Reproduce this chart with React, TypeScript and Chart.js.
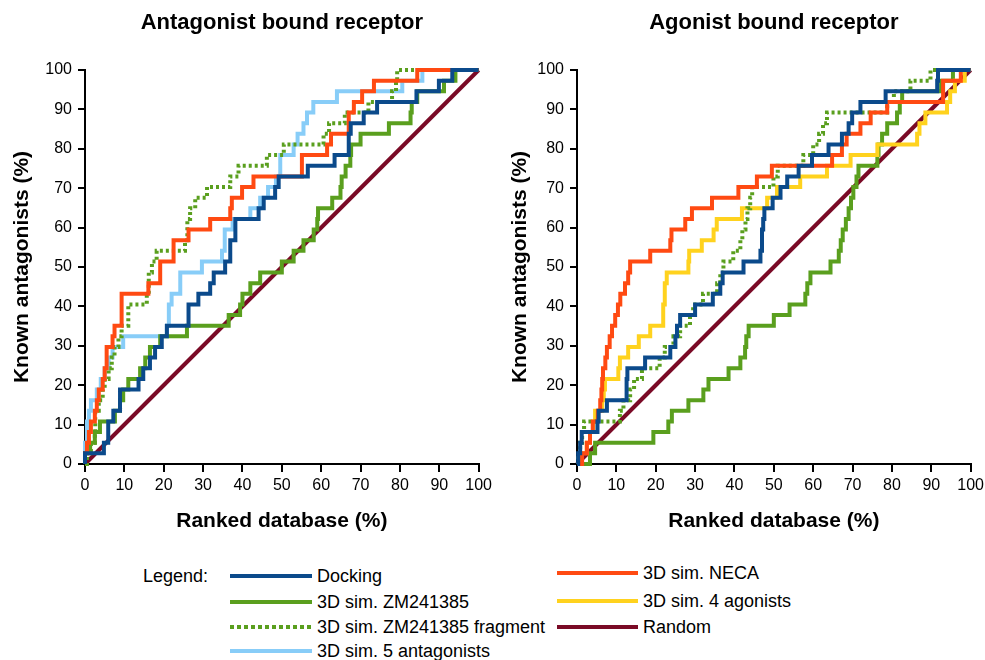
import React, { useEffect, useRef } from "react";
import { Chart, registerables } from "chart.js";
Chart.register(...registerables);

const FONT = "'Liberation Sans', Arial, sans-serif";

// ---- colours ----
const C_DOCK = "#0b4a8b";
const C_ZM = "#5a9f1e";
const C_FRAG = "#5a9f1e";
const C_ANT5 = "#88cdf8";
const C_NECA = "#ff4a12";
const C_AG4 = "#ffd21e";
const C_RAND = "#7a0a26";

// ---- tick values ----
const axisTicks = [0, 10, 20, 30, 40, 50, 60, 70, 80, 90, 100];

// ---- Antagonist bound receptor (left) : [ranked %, known %] step points ----
const leftDocking = [[0,0],[0,2.7],[4.8,5.4],[5.9,10.8],[7.2,13.5],[8.9,18.9],[13.6,21.6],[14.8,24.3],[16.5,27],[17.8,29.7],[19.5,32.4],[20.8,35.1],[26.3,40.5],[28.8,43.2],[31.8,45.9],[32.7,48.6],[35.6,51.4],[36.9,56.8],[38.2,62.2],[44.1,64.9],[45.4,67.6],[48.3,70.3],[49.2,73],[56.6,75.7],[63.4,78.4],[67,83.8],[67.5,86.5],[70.8,89.2],[74.2,91.9],[84.2,94.6],[89.9,97.3],[93.3,100],[100,100]];
const leftZM = [[0,0],[0,2.7],[1.3,5.4],[2.5,8.1],[3.8,10.8],[7.6,13.5],[8.9,16.2],[9.7,18.9],[11,21.6],[14,24.3],[15.3,27],[16.5,29.7],[19.1,32.4],[25.9,35.1],[36.5,37.8],[39.4,40.5],[40,43.2],[42,45.9],[44.5,48.6],[50,51.4],[53,54.1],[55.5,56.8],[58.1,59.5],[59,62.2],[59.2,64.9],[62.8,67.6],[64.9,70.3],[65.2,73],[66.2,75.7],[67.4,78.4],[67.6,81.1],[70,83.8],[77.2,86.5],[82.7,89.2],[83,91.9],[84.4,94.6],[91.2,97.3],[94.1,100],[100,100]];
const leftFrag = [[0,0],[0.5,2.7],[1.5,5.4],[2.5,8.1],[2.6,13.5],[3.5,16.2],[4.5,18.9],[5,21.6],[6,24.3],[6.8,27],[7.5,29.7],[8.5,32.4],[9.3,35.1],[11,40.5],[15.7,43.2],[16.2,48.6],[17,51.4],[18.2,54.1],[25.4,56.8],[26,62.2],[26.7,64.9],[28,67.6],[31,70.3],[36.9,73],[39,75.7],[46.2,78.4],[50.5,81.1],[60.6,83.8],[62,86.5],[66,89.2],[72,91.9],[78,94.6],[79,97.3],[79.3,100],[100,100]];
const leftNeca = [[0,0],[0,2.7],[0.5,5.4],[1,8.1],[1.5,10.8],[2.5,13.5],[3,16.2],[3.5,18.9],[4.5,21.6],[5,24.3],[5.5,29.7],[7,32.4],[7.5,35.1],[9.3,43.2],[16.1,45.9],[19.1,51.4],[22.5,56.8],[26.3,59.5],[31.8,62.2],[36.9,64.9],[37.3,67.6],[39.9,70.3],[42.8,73],[55.1,78.4],[61.5,81.1],[62.5,83.8],[67,89.2],[68.3,91.9],[70.4,94.6],[73.4,97.3],[84.4,100],[100,100]];
const leftAnt5 = [[0,0],[0,5.4],[0.5,10.8],[1,13.5],[1.5,16.2],[3,18.9],[4,21.6],[5,24.3],[6,27],[7,29.7],[9.7,32.4],[20.8,35.1],[21.3,40.5],[22,43.2],[24.2,48.6],[29.7,51.4],[34.8,54.1],[35.5,59.5],[37.5,62.2],[42,64.9],[44.5,67.6],[46.5,70.3],[48.5,73],[49.6,78.4],[53,81.1],[54,83.8],[55.5,86.5],[56.4,89.2],[58,91.9],[64,94.6],[80.6,97.3],[85.7,100],[100,100]];

// ---- Agonist bound receptor (right) ----
const rightDocking = [[0,0],[0.3,2.7],[0.8,5.4],[1.2,8.1],[5.2,10.8],[5.5,13.5],[7.6,16.2],[12.6,21.6],[12.8,24.3],[17.3,27],[23.7,29.7],[25,32.4],[25.4,35.1],[26.2,37.8],[30,40.5],[34.5,43.2],[36.4,45.9],[37,48.6],[42.3,51.4],[46.6,54.1],[47,59.5],[47.3,62.2],[47.6,64.9],[49.7,67.6],[51.7,70.3],[53.4,73],[56.3,75.7],[59.7,78.4],[63.9,81.1],[67.3,83.8],[69,86.5],[69.9,89.2],[72,91.9],[78.4,94.6],[91.5,97.3],[91.7,100],[100,100]];
const rightZM = [[0,0],[3.3,2.7],[4.6,5.4],[19.4,8.1],[23.2,10.8],[24.1,13.5],[28.3,16.2],[32.1,18.9],[33.4,21.6],[38.5,24.3],[41.5,27],[42.7,29.7],[43,32.4],[43.6,35.1],[50,37.8],[54,40.5],[58,43.2],[58.5,45.9],[59.3,48.6],[64.4,51.4],[66.5,54.1],[67,56.8],[67.5,59.5],[68.3,62.2],[69,64.9],[69.6,67.6],[70.2,70.3],[71,73],[71.5,75.7],[76.3,78.4],[76.6,81.1],[77.5,83.8],[78.8,86.5],[81.3,89.2],[82,91.9],[82.6,94.6],[92.5,97.3],[95.5,100],[100,100]];
const rightFrag = [[0,0],[0.3,2.7],[0.8,5.4],[1.3,8.1],[1.8,10.8],[10.9,13.5],[11.8,16.2],[13.5,18.9],[14.5,21.6],[16.5,24.3],[21,27],[22.3,29.7],[24.5,32.4],[26.2,35.1],[28.7,37.8],[29.5,40.5],[32,43.2],[35.6,45.9],[36.4,48.6],[37.2,51.4],[39.7,54.1],[41.5,56.8],[42,59.5],[42.8,62.2],[43.3,64.9],[44,67.6],[44.5,70.3],[49.9,73],[51,75.7],[57.5,78.4],[60,81.1],[61.5,83.8],[62.5,86.5],[63.5,89.2],[78.8,91.9],[80.5,94.6],[84.7,97.3],[89.8,100],[100,100]];
const rightNeca = [[0,0],[1.3,2.7],[2.5,5.4],[3.3,8.1],[4,10.8],[5.3,13.5],[5.9,16.2],[6.2,18.9],[6.4,21.6],[6.6,24.3],[7.2,27],[7.6,29.7],[8.3,32.4],[8.9,35.1],[9.7,37.8],[10.4,40.5],[11,43.2],[12.2,45.9],[13,48.6],[13.5,51.4],[18.6,54.1],[23.7,56.8],[24,59.5],[27.5,62.2],[29.2,64.9],[34.3,67.6],[41,70.3],[45.7,73],[49.5,75.7],[64.8,78.4],[67.3,81.1],[68.5,83.8],[72,86.5],[74.6,89.2],[78.8,91.9],[93,97.3],[97.5,100],[100,100]];
const rightAg4 = [[0,0],[0.8,2.7],[2.5,5.4],[3.3,8.1],[4.1,10.8],[4.6,13.5],[6.4,16.2],[6.8,18.9],[7.1,21.6],[10.5,24.3],[10.9,27],[13,29.7],[15.7,32.4],[18.6,35.1],[21.9,40.5],[22.3,45.9],[22.8,48.6],[28.3,51.4],[28.5,54.1],[31.7,56.8],[34.7,59.5],[35.5,62.2],[41.9,64.9],[48.3,67.6],[50.8,70.3],[56.7,73],[63.5,75.7],[69.5,78.4],[76.3,81.1],[86.4,83.8],[87,86.5],[88.5,89.2],[94,91.9],[94.8,94.6],[96,97.3],[98.5,100],[100,100]];

const randomLine = [[0,0],[100,100]];

type Series = { label: string; color: string; pts: number[][]; dotted?: boolean; stepped?: boolean };

const leftSeries: Series[] = [
  { label: "Docking", color: C_DOCK, pts: leftDocking },
  { label: "3D sim. NECA", color: C_NECA, pts: leftNeca },
  { label: "3D sim. ZM241385 fragment", color: C_FRAG, pts: leftFrag, dotted: true },
  { label: "3D sim. ZM241385", color: C_ZM, pts: leftZM },
  { label: "3D sim. 5 antagonists", color: C_ANT5, pts: leftAnt5 },
  { label: "Random", color: C_RAND, pts: randomLine, stepped: false },
];
const rightSeries: Series[] = [
  { label: "Docking", color: C_DOCK, pts: rightDocking },
  { label: "3D sim. NECA", color: C_NECA, pts: rightNeca },
  { label: "3D sim. ZM241385 fragment", color: C_FRAG, pts: rightFrag, dotted: true },
  { label: "3D sim. 4 agonists", color: C_AG4, pts: rightAg4 },
  { label: "3D sim. ZM241385", color: C_ZM, pts: rightZM },
  { label: "Random", color: C_RAND, pts: randomLine, stepped: false },
];

function buildChart(canvas: HTMLCanvasElement, title: string, series: Series[], yTitlePad: number) {
  return new Chart(canvas, {
    type: "line",
    data: {
      datasets: series.map((s) => ({
        label: s.label,
        data: s.pts.map(([x, y]) => ({ x, y })),
        borderColor: s.color,
        backgroundColor: s.color,
        borderWidth: 4,
        borderDash: s.dotted ? [3, 3] : [],
        pointRadius: 0,
        stepped: s.stepped === false ? false : true,
        fill: false,
        clip: 6,
      })),
    },
    options: {
      animation: false,
      responsive: false,
      maintainAspectRatio: false,
      layout: { padding: { left: 0, right: 0, top: 0, bottom: 0 } },
      plugins: {
        legend: { display: false },
        tooltip: { enabled: false },
        title: {
          display: true,
          text: title,
          fullSize: false,
          color: "#000",
          font: { family: FONT, size: 22, weight: "bold" },
          padding: { top: 10, bottom: 33.6 },
        },
      },
      scales: {
        x: {
          type: "linear",
          min: 0,
          max: 100,
          afterFit: (s: any) => { s.height = 83; },
          afterBuildTicks: (s: any) => { s.ticks = axisTicks.map((v) => ({ value: v })); },
          ticks: { stepSize: 10, autoSkip: false, color: "#000", padding: 4, font: { family: FONT, size: 16 } },
          grid: { display: true, drawOnChartArea: false, drawTicks: true, tickLength: 8, color: "#000", lineWidth: 2 },
          border: { display: true, color: "#000", width: 2 },
          title: { display: true, text: "Ranked database (%)", color: "#000", font: { family: FONT, size: 21, weight: "bold" }, padding: { top: 0, bottom: 13.4 } },
        },
        y: {
          type: "linear",
          min: 0,
          max: 100,
          afterFit: (s: any) => { s.width = 85; },
          afterBuildTicks: (s: any) => { s.ticks = axisTicks.map((v) => ({ value: v })); },
          ticks: { stepSize: 10, autoSkip: false, color: "#000", padding: 6, font: { family: FONT, size: 16 } },
          grid: { display: true, drawOnChartArea: false, drawTicks: true, tickLength: 7, color: "#000", lineWidth: 2 },
          border: { display: true, color: "#000", width: 2 },
          title: { display: true, text: "Known antagonists (%)", color: "#000", font: { family: FONT, size: 21, weight: "bold" }, padding: { top: yTitlePad, bottom: 0 } },
        },
      },
    } as any,
  });
}

const legendLeft = [
  { label: "Docking", color: C_DOCK, y: 576 },
  { label: "3D sim. ZM241385", color: C_ZM, y: 602 },
  { label: "3D sim. ZM241385 fragment", color: C_FRAG, y: 627, dotted: true },
  { label: "3D sim. 5 antagonists", color: C_ANT5, y: 651 },
];
const legendRight = [
  { label: "3D sim. NECA", color: C_NECA, y: 573 },
  { label: "3D sim. 4 agonists", color: C_AG4, y: 601 },
  { label: "Random", color: C_RAND, y: 627 },
];

function LegendItem({ item, x, w }: { item: any; x: number; w: number }) {
  const bg = item.dotted
    ? `repeating-linear-gradient(90deg, ${item.color} 0px, ${item.color} 4px, transparent 4px, transparent 7px)`
    : item.color;
  return (
    <>
      <div style={{ position: "absolute", left: x, top: item.y - 2, width: w, height: 4, background: bg }} />
      <div style={{ position: "absolute", left: x + w + 5, top: item.y - 11, lineHeight: "22px", fontSize: 18, fontFamily: FONT, color: "#000", whiteSpace: "nowrap" }}>
        {item.label}
      </div>
    </>
  );
}

export default function App() {
  const leftRef = useRef<HTMLCanvasElement>(null);
  const rightRef = useRef<HTMLCanvasElement>(null);
  useEffect(() => {
    const a = buildChart(leftRef.current!, "Antagonist bound receptor", leftSeries, 9.4);
    const b = buildChart(rightRef.current!, "Agonist bound receptor", rightSeries, 15.4);
    return () => { a.destroy(); b.destroy(); };
  }, []);
  return (
    <div style={{ position: "fixed", left: 0, top: 0, width: 985, height: 660, background: "#fff", overflow: "hidden" }}>
      <canvas ref={leftRef} width={496} height={547} style={{ position: "absolute", left: 0, top: 0, width: 496, height: 547 }} />
      <canvas ref={rightRef} width={496} height={547} style={{ position: "absolute", left: 492, top: 0, width: 496, height: 547 }} />
      <div style={{ position: "absolute", left: 143, top: 565, lineHeight: "22px", fontSize: 18, fontFamily: FONT, color: "#000" }}>Legend:</div>
      {legendLeft.map((it) => <LegendItem key={it.label} item={it} x={230} w={82} />)}
      {legendRight.map((it) => <LegendItem key={it.label} item={it} x={557} w={81} />)}
    </div>
  );
}
